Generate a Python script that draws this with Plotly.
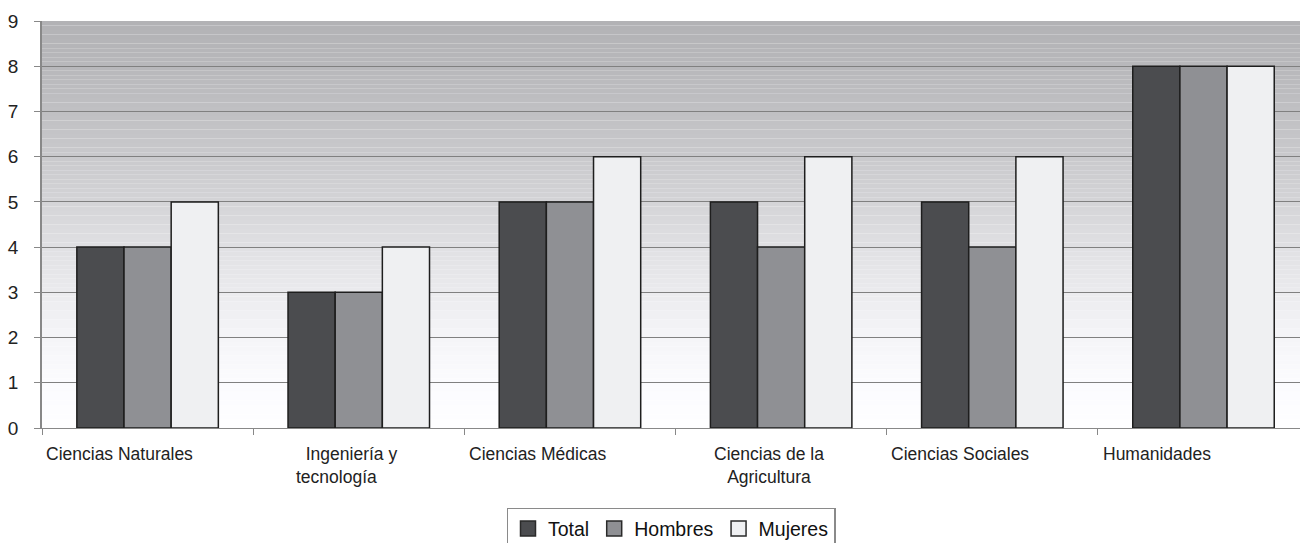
import numpy as np
import plotly.graph_objects as go

categories = ["Ciencias Naturales", "Ingeniería y tecnología", "Ciencias Médicas",
              "Ciencias de la Agricultura", "Ciencias Sociales", "Humanidades"]
total = [4, 3, 5, 5, 5, 8]
hombres = [4, 3, 5, 4, 4, 8]
mujeres = [5, 4, 6, 6, 6, 8]

series_names = ["Total", "Hombres", "Mujeres"]
series_colors = ["#4b4c4f", "#8f9094", "#eff0f2"]

# category label text (with line breaks) and how it is anchored under the axis
label_text = ["Ciencias Naturales", "&nbsp;&nbsp;Ingeniería y<br>tecnología", "Ciencias Médicas",
              "Ciencias de la<br>Agricultura", "Ciencias Sociales", "Humanidades"]
label_anchor = ["left", "left", "left", "center", "left", "left"]
label_shift = [2, 41, 3, -12, 2, 3]

FONT = "Liberation Sans, Arial, sans-serif"
OUTLINE = dict(color="#1e1e1e", width=1.5)

fig = go.Figure()
for name, vals, col in zip(series_names, [total, hombres, mujeres], series_colors):
    fig.add_bar(name=name, x=categories, y=vals, marker=dict(color=col, line=OUTLINE),
                showlegend=False, legendgroup=name)
# legend entries drawn as larger square swatches
for name, col in zip(series_names, series_colors):
    fig.add_scatter(name=name, x=[None], y=[None], mode="markers", legendgroup=name,
                    marker=dict(symbol="square", size=15, color=col,
                                line=dict(color="#2a2a2a", width=1.5)))

# vertical grey-to-white gradient behind the bars
shapes = []
stops_y = [0, 1, 2, 3, 4, 5, 6, 7, 8, 9]
stops_v = [254, 251, 245, 235, 224, 212, 201, 192, 184, 178]
n = 90
for k in range(n):
    y0 = 9 * k / n
    y1 = 9 * (k + 1) / n
    v = int(round(np.interp((y0 + y1) / 2, stops_y, stops_v)))
    shapes.append(dict(type="rect", xref="paper", yref="y", x0=0, x1=1, y0=y0, y1=y1,
                       fillcolor=f"rgb({v},{v},{min(v + 3, 255)})",
                       line=dict(width=0), layer="below"))

annotations = []
for i, (txt, anc, sh) in enumerate(zip(label_text, label_anchor, label_shift)):
    xpos = i - 0.5 if anc == "left" else i
    annotations.append(dict(x=xpos, y=-0.035, xref="x", yref="paper", text=txt,
                            xanchor=anc, yanchor="top", xshift=sh, showarrow=False,
                            align="left" if anc == "left" else "center",
                            font=dict(family=FONT, size=17.5, color="#222")))

fig.update_layout(
    width=1300, height=543,
    margin=dict(l=42, r=0, t=21, b=115, autoexpand=False),
    barmode="group", bargap=0.33, bargroupgap=0,
    plot_bgcolor="white", paper_bgcolor="white",
    font=dict(family=FONT, color="#222"),
    shapes=shapes, annotations=annotations,
    showlegend=True,
    legend=dict(orientation="h", x=0.5, xanchor="center", y=-0.196, yanchor="top",
                bordercolor="#8a8a8a", borderwidth=1.5,
                font=dict(size=19.5, family=FONT, color="#111"),
                itemwidth=30, traceorder="normal"),
)
fig.update_xaxes(type="category", range=[-0.5, 5.457], showticklabels=False,
                 ticks="outside", tickson="boundaries", ticklen=6, tickcolor="#888",
                 showline=True, linecolor="#888", linewidth=1, showgrid=False)
fig.update_yaxes(range=[0, 9], dtick=1, ticks="outside", ticklen=6, tickcolor="#888",
                 showline=True, linecolor="#888", linewidth=1.5,
                 showgrid=True, gridcolor="#808080", gridwidth=1,
                 ticklabelstandoff=12,
                 tickfont=dict(size=19, family=FONT, color="#222"), zeroline=False)

fig.write_html("out.html")
